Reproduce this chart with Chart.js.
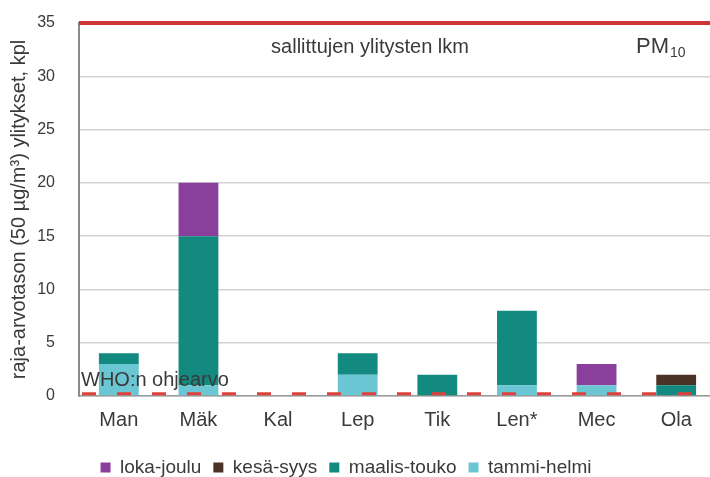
<!DOCTYPE html>
<html>
<head>
<meta charset="utf-8">
<script src="https://cdn.jsdelivr.net/npm/chart.js@4.4.1/dist/chart.umd.min.js"></script>
<style>
  html, body { margin: 0; padding: 0; background: #fff; overflow: hidden; }
  #wrap { width: 716px; height: 487px; }
</style>
</head>
<body>
<div id="wrap"><canvas id="pmChart" width="716" height="487"></canvas></div>
<script>
// ylitysten määrät asemittain ja vuodenajoittain
const stations = ['Man', 'Mäk', 'Kal', 'Lep', 'Tik', 'Len*', 'Mec', 'Ola'];
const tammiHelmi  = [3, 1, 0, 2, 0, 1, 1, 0];
const maalisTouko = [1, 14, 0, 2, 2, 7, 0, 1];
const kesaSyys    = [0, 0, 0, 0, 0, 0, 0, 1];
const lokaJoulu   = [0, 5, 0, 0, 0, 0, 2, 0];
const yTicks = [0, 5, 10, 15, 20, 25, 30, 35];
const allowedExceedances = 35;
const whoGuideline = 0.2;

const textColor = '#3a3a3a';
const font = 'Liberation Sans, Arial, sans-serif';

// raja- ja ohjearvoviivat + tekstit
const limitLines = {
  id: 'limitLines',
  afterLayout(chart) {
    // legenda hieman vasemmalle kuten alkuperäisessä
    chart.legend.left -= 12;
    chart.legend.right -= 12;
  },
  afterDatasetsDraw(chart) {
    const {ctx, chartArea: a, scales: {y}} = chart;
    ctx.save();

    const yWho = y.getPixelForValue(whoGuideline);
    ctx.strokeStyle = '#e0403c';
    ctx.lineWidth = 3;
    ctx.setLineDash([14, 21]);
    ctx.beginPath();
    ctx.moveTo(a.left + 3, yWho);
    ctx.lineTo(a.right, yWho);
    ctx.stroke();
    ctx.setLineDash([]);

    const yLim = y.getPixelForValue(allowedExceedances);
    ctx.strokeStyle = '#cf3438';
    ctx.lineWidth = 4;
    ctx.beginPath();
    ctx.moveTo(a.left, yLim);
    ctx.lineTo(a.right, yLim);
    ctx.stroke();

    ctx.fillStyle = textColor;
    ctx.textBaseline = 'middle';
    ctx.textAlign = 'center';
    ctx.font = '20px ' + font;
    ctx.fillText('sallittujen ylitysten lkm', 370, yLim + 24);

    ctx.textAlign = 'left';
    ctx.textBaseline = 'alphabetic';
    ctx.font = '22px ' + font;
    ctx.fillText('PM', 636, yLim + 30);
    ctx.font = '14px ' + font;
    ctx.fillText('10', 670, yLim + 34);

    ctx.textBaseline = 'middle';
    ctx.font = '20px ' + font;
    ctx.fillText('WHO:n ohjearvo', a.left + 2, yWho - 13);
    ctx.restore();
  }
};

const ctx = document.getElementById('pmChart');
new Chart(ctx, {
  type: 'bar',
  data: {
    labels: stations,
    datasets: [
      {label: 'tammi-helmi', data: tammiHelmi, backgroundColor: '#6ac6d2'},
      {label: 'maalis-touko', data: maalisTouko, backgroundColor: '#128a80'},
      {label: 'kesä-syys', data: kesaSyys, backgroundColor: '#4b3226'},
      {label: 'loka-joulu', data: lokaJoulu, backgroundColor: '#8b3f9c'}
    ]
  },
  options: {
    responsive: false,
    animation: false,
    categoryPercentage: 1,
    barPercentage: 0.5,
    layout: {padding: {top: 23, left: 0, right: 0, bottom: 0}},
    plugins: {
      tooltip: {enabled: false},
      legend: {
        position: 'bottom',
        reverse: true,
        labels: {
          boxWidth: 10,
          boxHeight: 10,
          padding: 12,
          color: textColor,
          font: {family: font, size: 19}
        }
      }
    },
    scales: {
      x: {
        stacked: true,
        grid: {display: false, drawTicks: false},
        border: {color: '#9a9a9a', width: 1.5},
        ticks: {color: textColor, padding: 12, maxRotation: 0, autoSkip: false, font: {family: font, size: 20}},
        afterFit: s => { s.height = 50; }
      },
      y: {
        stacked: true,
        min: 0,
        max: 35,
        afterBuildTicks: s => { s.ticks = yTicks.map(v => ({value: v})); },
        grid: {color: '#d2d2d2', lineWidth: 1.5, drawTicks: false},
        border: {color: '#8a8a8a', width: 2},
        ticks: {color: textColor, padding: 24, font: {family: font, size: 16}},
        title: {
          display: true,
          text: 'raja-arvotason (50 µg/m³) ylitykset, kpl',
          color: textColor,
          padding: {top: 7, bottom: 0},
          font: {family: font, size: 20}
        },
        afterFit: s => {
          s.width = 79;
          s.paddingTop = 0;
          s.paddingBottom = 0;
        }
      }
    }
  },
  plugins: [limitLines]
});
</script>
</body>
</html>
